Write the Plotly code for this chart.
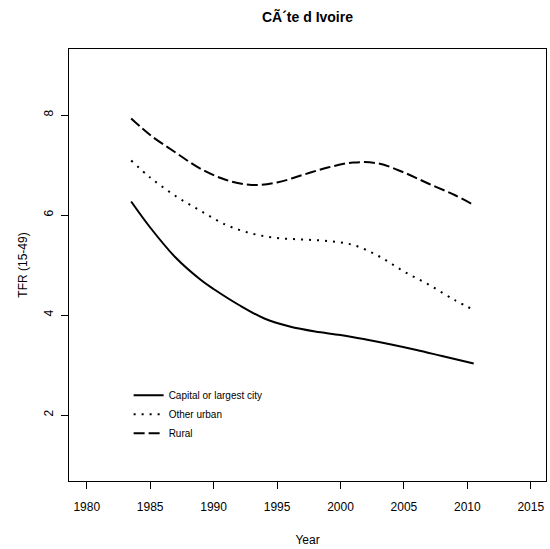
import plotly.graph_objects as go

# Total fertility rate (15-49) by place of residence
capital_years = [1983.5, 1985, 1987, 1989, 1990, 1992, 1994, 1996, 1998, 2000, 2002, 2004, 2006, 2008, 2010.5]
capital_tfr = [6.27, 5.75, 5.15, 4.7, 4.52, 4.2, 3.93, 3.77, 3.67, 3.6, 3.51, 3.41, 3.3, 3.18, 3.03]

urban_years = [1983.5, 1985, 1987, 1989, 1991, 1993, 1995, 1997, 1999, 2001, 2003, 2005, 2007, 2009, 2010.5]
urban_tfr = [7.09, 6.75, 6.38, 6.08, 5.8, 5.63, 5.54, 5.51, 5.48, 5.4, 5.18, 4.87, 4.6, 4.3, 4.1]

rural_years = [1983.5, 1985, 1987, 1989, 1991, 1993, 1995, 1997, 1999, 2001, 2003, 2005, 2007, 2009, 2010.5]
rural_tfr = [7.93, 7.6, 7.25, 6.92, 6.7, 6.6, 6.65, 6.8, 6.95, 7.05, 7.03, 6.85, 6.62, 6.4, 6.2]

x_ticks = [1980, 1985, 1990, 1995, 2000, 2005, 2010, 2015]
y_ticks = [2, 4, 6, 8]

FONT = "Liberation Sans, Arial, sans-serif"

fig = go.Figure()
fig.add_trace(go.Scatter(x=capital_years, y=capital_tfr, mode="lines",
                         name="Capital or largest city",
                         line=dict(color="black", width=2, shape="spline", dash="solid")))
fig.add_trace(go.Scatter(x=urban_years, y=urban_tfr, mode="lines",
                         name="Other urban",
                         line=dict(color="black", width=2, shape="spline", dash="2px,6px")))
fig.add_trace(go.Scatter(x=rural_years, y=rural_tfr, mode="lines",
                         name="Rural",
                         line=dict(color="black", width=2, shape="spline", dash="11px,4px")))

fig.update_layout(
    width=550, height=549,
    margin=dict(l=69, r=4, t=49, b=68),
    paper_bgcolor="white", plot_bgcolor="white",
    font=dict(family=FONT, size=12, color="black"),
    title=dict(text="<b>CÃ´te d Ivoire</b>", x=307.5 / 550, xanchor="center",
               y=1 - 17 / 549, yanchor="middle", font=dict(size=14, family=FONT)),
    showlegend=True,
    legend=dict(x=0.125, y=0.232, xanchor="left", yanchor="top",
                bgcolor="rgba(0,0,0,0)", font=dict(size=10, family=FONT),
                itemwidth=30, tracegroupgap=0),
    xaxis=dict(range=[1978.6, 2016.2], tickvals=x_ticks, showgrid=False, zeroline=False,
               showline=True, linecolor="black", linewidth=1, mirror=True,
               ticks="outside", ticklen=7, tickcolor="black", ticklabelstandoff=8,
               title=dict(text="Year", standoff=22, font=dict(size=12))),
    yaxis=dict(range=[0.68, 9.32], tickvals=y_ticks, showgrid=False, zeroline=False,
               showline=True, linecolor="black", linewidth=1, mirror=True,
               ticks="outside", ticklen=7, tickcolor="black", tickangle=-90,
               ticklabelstandoff=3,
               title=dict(text="TFR (15-49)", standoff=12, font=dict(size=12))),
)

fig.write_html("out.html")
